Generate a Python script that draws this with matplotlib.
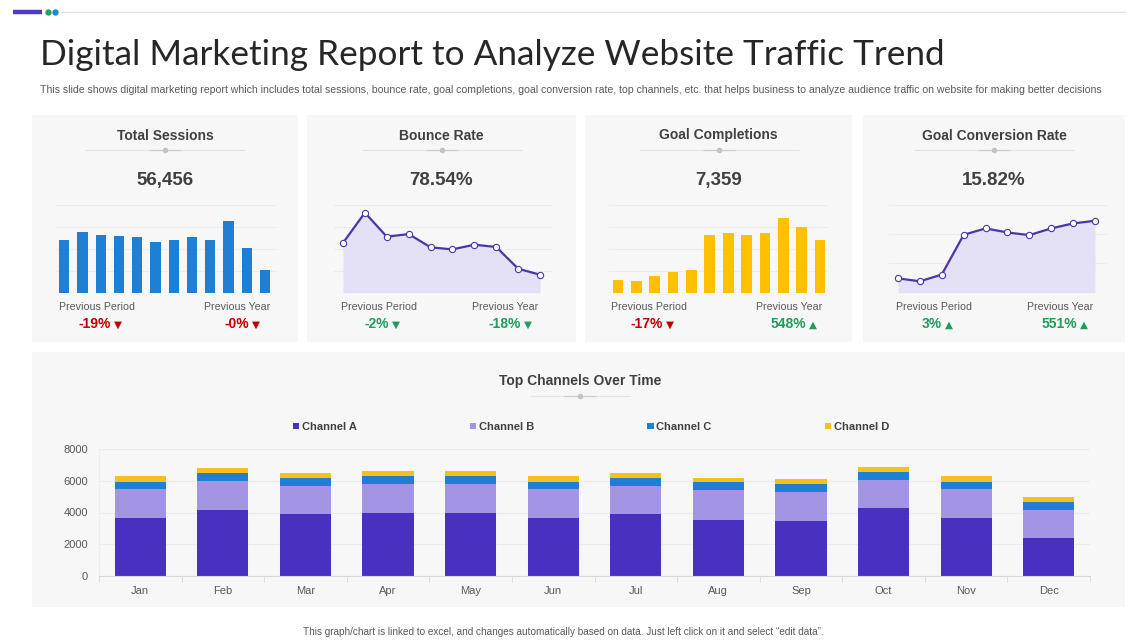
import matplotlib
matplotlib.use("Agg")
import matplotlib.pyplot as plt
from matplotlib.patches import Rectangle
from matplotlib.lines import Line2D
import numpy as np

# ---------------- data ----------------
months = ['Jan', 'Feb', 'Mar', 'Apr', 'May', 'Jun', 'Jul', 'Aug', 'Sep', 'Oct', 'Nov', 'Dec']
sessions = [4810, 5510, 5290, 5200, 5110, 4620, 4810, 5050, 4810, 6540, 4110, 2040]
bounce = [45.4, 73.0, 51.1, 53.5, 41.4, 39.5, 43.8, 41.7, 21.9, 16.4]
completions = [173, 160, 228, 283, 306, 794, 817, 794, 817, 1027, 903, 721]
conversion = [4.9, 3.9, 6.2, 19.8, 22.0, 20.6, 19.7, 22.0, 23.7, 24.6]
ch_a = [3660, 4170, 3890, 4000, 4000, 3660, 3890, 3540, 3490, 4270, 3640, 2380]
ch_b = [1790, 1790, 1790, 1790, 1790, 1790, 1790, 1850, 1810, 1790, 1810, 1790]
ch_c = [480, 510, 500, 500, 500, 500, 500, 500, 480, 500, 500, 480]
ch_d = [360, 340, 300, 300, 300, 340, 300, 300, 300, 300, 340, 320]
channel_names = ['Channel A', 'Channel B', 'Channel C', 'Channel D']

card_titles = ['Total Sessions', 'Bounce Rate', 'Goal Completions', 'Goal Conversion Rate']
card_values = ['56,456', '78.54%', '7,359', '15.82%']
prev_period = ['-19%', '-2%', '-17%', '3%']
prev_year = ['-0%', '-18%', '548%', '551%']
pp_dir = ['down', 'down', 'down', 'up']
py_dir = ['down', 'down', 'up', 'up']
pp_col = ['red', 'green', 'red', 'green']
py_col = ['red', 'green', 'green', 'green']

title = 'Digital Marketing Report to Analyze Website Traffic Trend'
subtitle = ('This slide shows digital marketing report which includes total sessions, bounce rate, goal completions, '
            'goal conversion rate, top channels, etc. that helps business to analyze audience traffic on website '
            'for making better decisions')
footer = ('This graph/chart is linked to excel, and changes automatically based on data. '
          'Just left click on it and select \u201cedit data\u201d.')

# ---------------- style ----------------
W, H = 1126, 640
PURPLE = '#4a30c0'
LAVENDER = '#a395e3'
BLUE = '#1e7fd4'
YELLOW = '#f5c018'
GOLD = '#ffc000'
RED = '#c00000'
GREEN = '#1f9e5a'
TXT = '#404040'
GRID = '#ececec'
CARD = '#f7f7f7'
SANS = ['Liberation Sans', 'DejaVu Sans']

plt.rcParams['font.family'] = SANS

fig = plt.figure(figsize=(W / 100, H / 100), dpi=100)
fig.patch.set_facecolor('white')
renderer = fig.canvas.get_renderer()


def fx(x):
    return x / W


def fy(y):
    return 1 - y / H


def ftext(x, y, s, **kw):
    return fig.text(fx(x), fy(y), s, **kw)


def fit_width(t, target):
    # shrink/grow a text so that it spans the target width in pixels
    for _ in range(3):
        w = t.get_window_extent(renderer).width
        t.set_fontsize(t.get_fontsize() * target / w)


def axes_px(x0, y0, x1, y1):
    return fig.add_axes([fx(x0), fy(y1), (x1 - x0) / W, (y1 - y0) / H])


def rect_px(x0, y0, x1, y1, color, z=-5):
    fig.patches.append(Rectangle((fx(x0), fy(y1)), (x1 - x0) / W, (y1 - y0) / H,
                                 transform=fig.transFigure, facecolor=color,
                                 edgecolor='none', zorder=z))


def hline_px(x0, x1, y, color, lw=1.0, z=1):
    fig.lines.append(Line2D([fx(x0), fx(x1)], [fy(y), fy(y)], transform=fig.transFigure,
                            color=color, lw=lw, zorder=z, solid_capstyle='butt'))


def divider(cx, y, half=80):
    hline_px(cx - half, cx + half, y, '#e3e3e3', lw=0.8)
    hline_px(cx - 16, cx + 16, y, '#cfcfcf', lw=0.9, z=2)
    fig.lines.append(Line2D([fx(cx)], [fy(y)], transform=fig.transFigure, marker='o',
                            markersize=3, color='#c4c4c4', zorder=3, lw=0))


# top decoration
hline_px(13, 42, 12, '#5238c6', lw=3.2)
fig.lines.append(Line2D([fx(48)], [fy(12)], transform=fig.transFigure, marker='o',
                        markersize=3.6, color='#21a35f', lw=0))
fig.lines.append(Line2D([fx(55)], [fy(12)], transform=fig.transFigure, marker='o',
                        markersize=3.6, color='#1e88d8', lw=0))
hline_px(61, 1126, 12, '#dddddd', lw=0.8)

# title / subtitle / footer
t = ftext(40, 65, title, fontsize=25, family=['Lato', 'DejaVu Sans'], fontweight='normal',
          color='#262626', va='baseline', ha='left')
fit_width(t, 905)
t = ftext(40, 93, subtitle, fontsize=7.2, color='#595959', va='baseline', ha='left')
fit_width(t, 1062)
t = ftext(563, 635, footer, fontsize=6.5, color='#595959', va='baseline', ha='center')
fit_width(t, 528)

# ---------------- cards ----------------
cards = [(32, 298), (307, 576), (585, 852), (863, 1125)]
for (x0, x1) in cards:
    rect_px(x0, 115, x1, 342, CARD)
rect_px(32, 352, 1125, 607, CARD)


def pct(cx, y, s, direction, colname):
    col = RED if colname == 'red' else GREEN
    tri = '\u25BC' if direction == 'down' else '\u25B2'
    t1 = ftext(0, y, s, fontsize=10, fontweight='bold', color=col, ha='left', va='baseline')
    t2 = ftext(0, y - 0.5, tri, fontsize=7.5, color=col, ha='left', va='baseline',
               family=['DejaVu Sans'])
    w1 = t1.get_window_extent(renderer).width
    w2 = t2.get_window_extent(renderer).width
    gap = 3
    left = cx - (w1 + gap + w2) / 2
    t1.set_x(fx(left))
    t2.set_x(fx(left + w1 + gap))


def mini_axes(x0, x1, ncat, first_x, last_x, top=205, base=292.7):
    ax = axes_px(x0, top, x1, base)
    step = (last_x - first_x) / (ncat - 1)
    ax.set_xlim((x0 - first_x) / step, (ncat - 1) + (x1 - last_x) / step)
    ax.set_facecolor('none')
    for s in ax.spines.values():
        s.set_visible(False)
    ax.set_xticks([])
    ax.tick_params(left=False, labelleft=False)
    return ax


layout = [
    # axes x0, x1, first point, last point, label left, label right
    (55, 277, 64.3, 265, 59, 270),
    (334, 552, 343, 540, 341, 538),
    (609, 828, 618, 820, 611, 822),
    (889, 1107, 898, 1095, 896, 1093),
]

for i, (x0, x1) in enumerate(cards):
    cx = (x0 + x1) / 2
    ftext(cx, 139.5, card_titles[i], fontsize=10, fontweight='bold', color=TXT, ha='center', va='baseline')
    divider(cx, 150, half=80)
    ftext(cx, 185, card_values[i], fontsize=13.5, fontweight='bold', color=TXT, ha='center', va='baseline')

    ax0, ax1, p0, p1, l0, l1 = layout[i]
    if i == 0:
        ax = mini_axes(ax0, ax1, 12, p0, p1)
        ax.bar(range(12), sessions, width=0.56, color=BLUE, zorder=2)
        ax.set_ylim(0, 8000)
        ax.set_yticks([0, 2000, 4000, 6000, 8000])
    elif i == 2:
        ax = mini_axes(ax0, ax1, 12, p0, p1)
        ax.bar(range(12), completions, width=0.58, color=GOLD, zorder=2)
        ax.set_ylim(0, 1200)
        ax.set_yticks([0, 300, 600, 900, 1200])
    elif i == 1:
        ax = mini_axes(ax0, ax1, 10, p0, p1)
        xs = np.arange(len(bounce))
        ax.fill_between(xs, bounce, color='#e4e0f5', zorder=1, lw=0)
        ax.plot(xs, bounce, color='#4b35a8', lw=1.6, marker='o', markersize=4.5,
                markerfacecolor='white', markeredgecolor='#4b35a8', markeredgewidth=0.8, zorder=3)
        ax.set_ylim(0, 80)
        ax.set_yticks([0, 20, 40, 60, 80])
    else:
        ax = mini_axes(ax0, ax1, 10, p0, p1)
        xs = np.arange(len(conversion))
        ax.fill_between(xs, conversion, color='#e4e0f5', zorder=1, lw=0)
        ax.plot(xs, conversion, color='#4b35a8', lw=1.6, marker='o', markersize=4.5,
                markerfacecolor='white', markeredgecolor='#4b35a8', markeredgewidth=0.8, zorder=3)
        ax.set_ylim(0, 30)
        ax.set_yticks([0, 10, 20, 30])
    ax.grid(axis='y', color=GRID, lw=0.8, zorder=0)
    ax.set_axisbelow(True)

    ftext(l0, 310, 'Previous Period', fontsize=7.7, color='#595959', ha='left', va='baseline')
    ftext(l1, 310, 'Previous Year', fontsize=7.7, color='#595959', ha='right', va='baseline')
    pct(l0 + 37.5 + 4, 328, prev_period[i], pp_dir[i], pp_col[i])
    pct(l1 - 33 + 5, 328, prev_year[i], py_dir[i], py_col[i])

# ---------------- bottom stacked chart ----------------
ftext(580, 385.5, 'Top Channels Over Time', fontsize=10, fontweight='bold', color=TXT,
      ha='center', va='baseline')
divider(580, 396, half=50)

ax = axes_px(99, 449, 1090, 576)
ax.set_facecolor('none')
x = np.arange(len(months))
bw = 0.62
b1 = ax.bar(x, ch_a, bw, color=PURPLE, zorder=2, label=channel_names[0])
bottom = np.array(ch_a)
b2 = ax.bar(x, ch_b, bw, bottom=bottom, color=LAVENDER, zorder=2, label=channel_names[1])
bottom = bottom + np.array(ch_b)
b3 = ax.bar(x, ch_c, bw, bottom=bottom, color=BLUE, zorder=2, label=channel_names[2])
bottom = bottom + np.array(ch_c)
b4 = ax.bar(x, ch_d, bw, bottom=bottom, color=YELLOW, zorder=2, label=channel_names[3])
ax.set_xlim(-0.5, 11.5)
ax.set_ylim(0, 8000)
ax.set_yticks([0, 2000, 4000, 6000, 8000])
ax.grid(axis='y', color=GRID, lw=0.8, zorder=0)
ax.set_axisbelow(True)
for s in ['top', 'right']:
    ax.spines[s].set_visible(False)
ax.spines['left'].set_color('#eeeeee')
ax.spines['bottom'].set_color('#d9d9d9')
ax.set_xticks(x)
ax.set_xticklabels(months)
ax.set_xticks(np.arange(-0.5, 12, 1), minor=True)
ax.tick_params(axis='x', which='major', length=0, pad=7, labelsize=8, labelcolor='#595959')
ax.tick_params(axis='x', which='minor', length=4, color='#d9d9d9')
ax.tick_params(axis='y', length=0, pad=8, labelsize=8, labelcolor='#595959')

leg = fig.legend(handles=[b1, b2, b3, b4], labels=channel_names, loc='center',
                 bbox_to_anchor=(fx(591), fy(427)), ncol=4, frameon=False,
                 fontsize=8, handlelength=0.55, handleheight=0.55, handletextpad=0.25,
                 columnspacing=10.2, labelcolor='#404040')
for t in leg.get_texts():
    t.set_fontweight('bold')

fig.savefig('out.png', dpi=100, facecolor='white')
